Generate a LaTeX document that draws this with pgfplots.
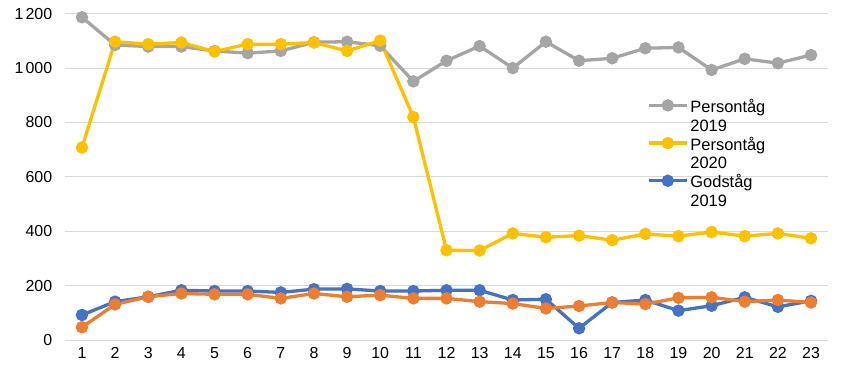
\documentclass[border=0pt]{standalone}
\usepackage{pgfplots}
\pgfplotsset{compat=1.18}
\usepackage{fontspec}
\setmainfont{Liberation Sans}
\definecolor{cgrey}{HTML}{A5A5A5}
\definecolor{cyellow}{HTML}{FFC000}
\definecolor{cblue}{HTML}{4472C4}
\definecolor{corange}{HTML}{ED7D31}
\definecolor{cgrid}{HTML}{D9D9D9}
\begin{document}
\begin{tikzpicture}
\path[use as bounding box] (-65.4bp,-30bp) rectangle (782.6bp,340bp);
\begin{axis}[
  at={(0,0)}, anchor=south west,
  scale only axis, width=762.2bp, height=326.3bp,
  xmin=0.5, xmax=23.5, ymin=0, ymax=1200,
  xtick={1,...,23},
  ytick={0,200,400,600,800,1000,1200},
  /pgf/number format/assume math mode=true,
  /pgf/number format/1000 sep={\kern2.2bp},
  axis x line*=bottom, axis y line*=left,
  axis line style={draw=none},
  major tick length=0pt,
  tick style={draw=none},
  ymajorgrids, grid style={cgrid, line width=1bp},
  tick label style={font=\fontsize{16}{19}\selectfont, inner sep=0pt},
  y tick label style={xshift=-13bp},
  x tick label style={yshift=-7bp},
  every axis plot/.append style={line width=3.3bp, mark=*, mark size=4.5bp, mark options={solid}},
  legend style={draw=none, fill=none, at={(0.763,0.745)}, anchor=north west,
    font=\fontsize{16.5}{19}\selectfont, inner sep=0pt, row sep=0pt,
    cells={align=left}},
  legend cell align=left,
  legend image code/.code={\draw[#1,line width=3.3bp,mark size=4.5bp,mark repeat=2,mark phase=2,yshift=10.5bp] plot coordinates {(0bp,0bp) (19bp,0bp) (38bp,0bp)};},
]
\addplot[cgrey, mark options={fill=cgrey, draw=cgrey}] coordinates {
(1,1187)(2,1085)(3,1079)(4,1079)(5,1063)(6,1055)(7,1063)(8,1095)(9,1097)(10,1082)
(11,951)(12,1027)(13,1081)(14,1000)(15,1097)(16,1027)(17,1036)(18,1073)(19,1076)
(20,993)(21,1034)(22,1018)(23,1048)};
\addlegendentry{Persontåg\\2019}
\addplot[cyellow, mark options={fill=cyellow, draw=cyellow}] coordinates {
(1,708)(2,1097)(3,1088)(4,1094)(5,1061)(6,1088)(7,1088)(8,1094)(9,1063)(10,1101)
(11,820)(12,330)(13,329)(14,392)(15,378)(16,384)(17,367)(18,390)(19,382)
(20,397)(21,382)(22,392)(23,374)};
\addlegendentry{Persontåg\\2020}
\addplot[cblue, mark options={fill=cblue, draw=cblue}] coordinates {
(1,92)(2,141)(3,159)(4,183)(5,180)(6,180)(7,175)(8,187)(9,188)(10,180)
(11,180)(12,183)(13,183)(14,147)(15,150)(16,43)(17,138)(18,147)(19,108)
(20,126)(21,157)(22,122)(23,144)};
\addlegendentry{Godståg\\2019}
\addplot[corange, mark options={fill=corange, draw=corange}, forget plot] coordinates {
(1,47)(2,131)(3,159)(4,171)(5,168)(6,168)(7,153)(8,171)(9,159)(10,165)
(11,153)(12,153)(13,141)(14,134)(15,116)(16,125)(17,138)(18,132)(19,155)
(20,157)(21,141)(22,147)(23,138)};
\end{axis}
\end{tikzpicture}
\end{document}
